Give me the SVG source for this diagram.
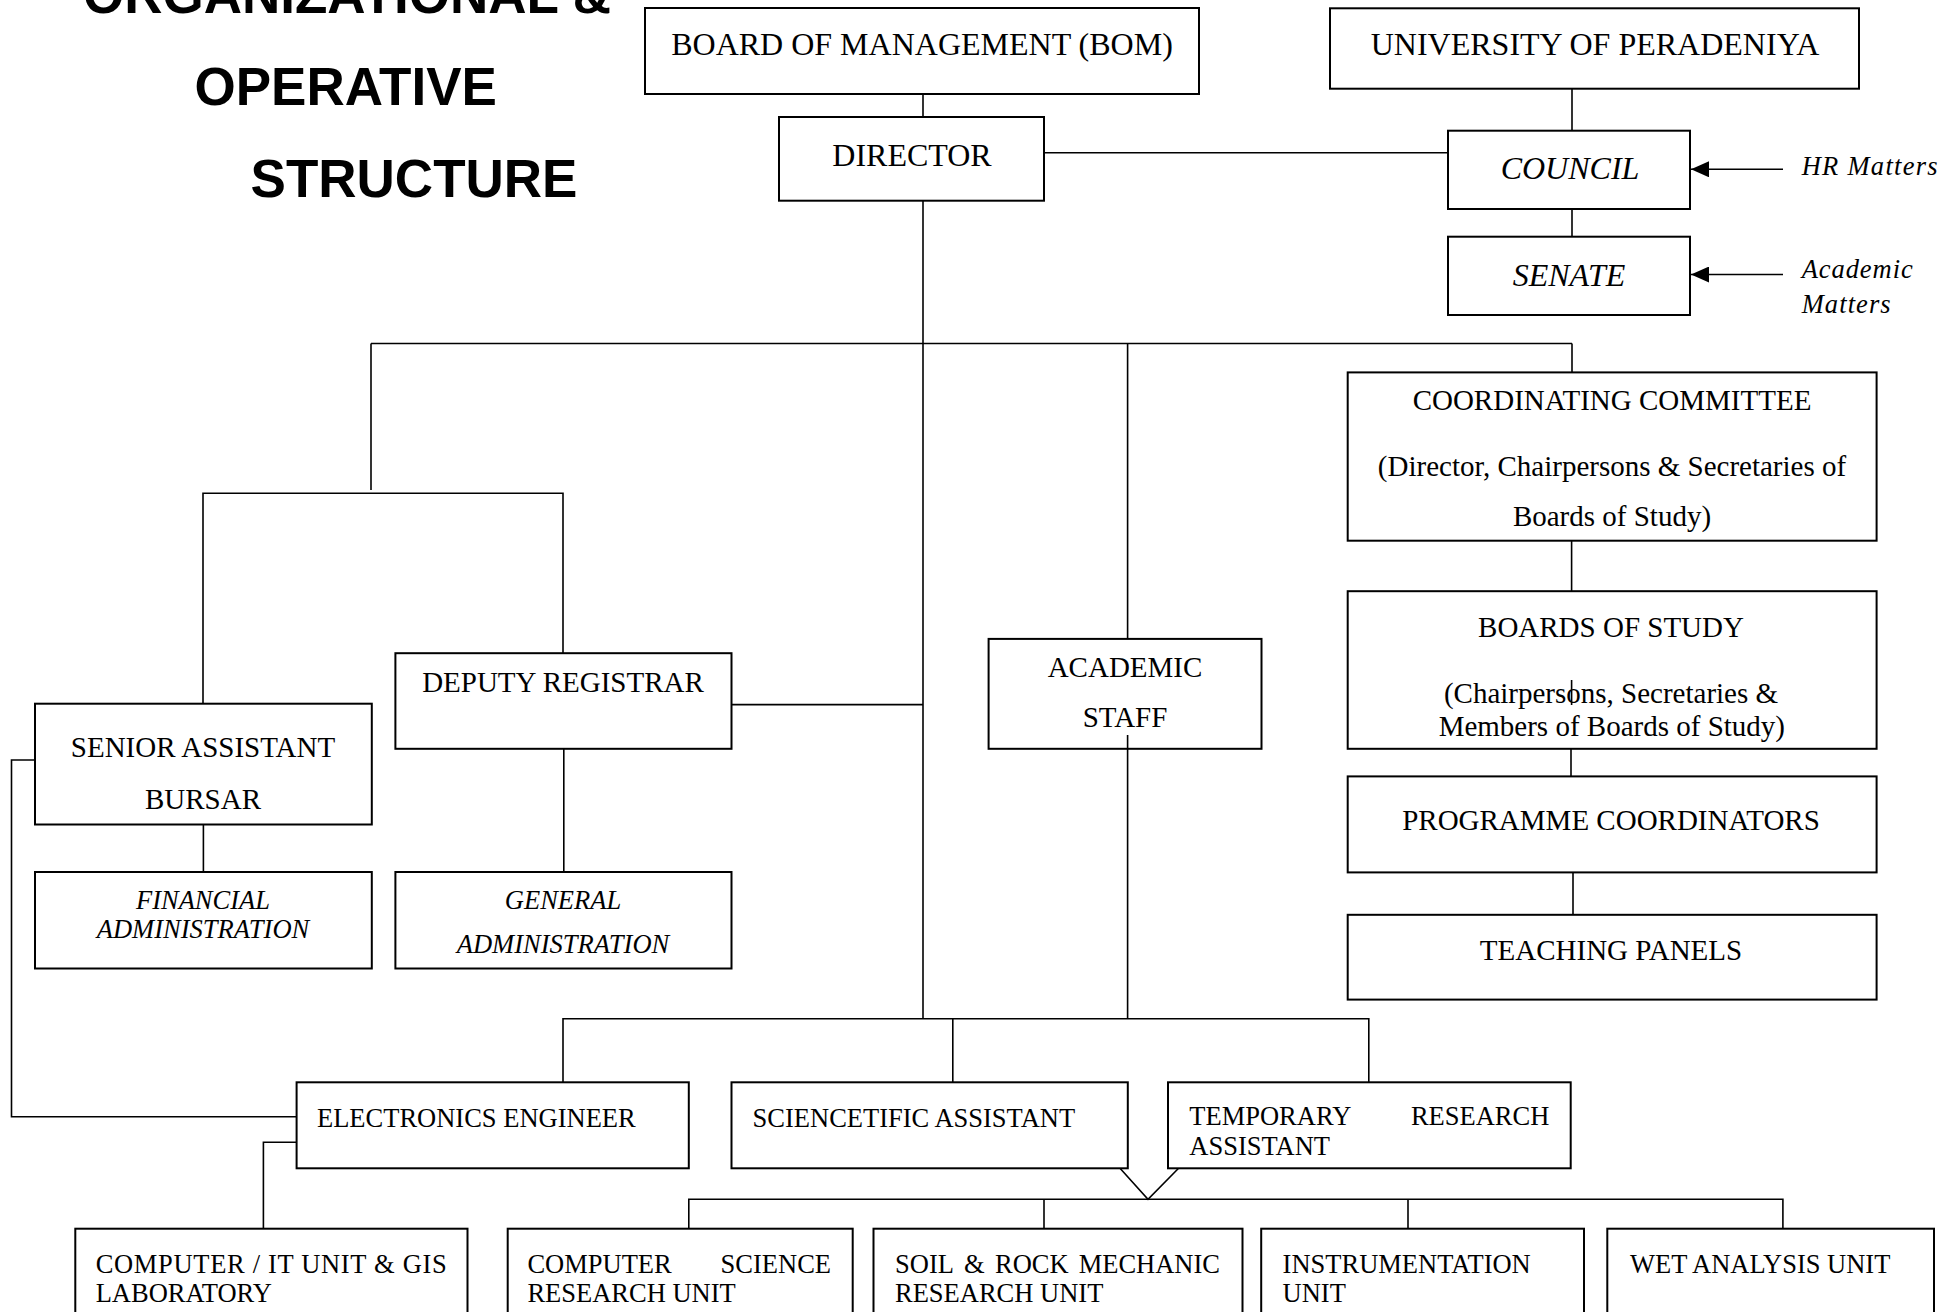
<svg xmlns="http://www.w3.org/2000/svg" width="1959" height="1312" viewBox="0 0 1959 1312">
<style>
  .box { fill: #ffffff; stroke: #000000; stroke-width: 2; }
  .ln { fill: none; stroke: #000000; stroke-width: 1.6; }
  .t32 { font-family: "Liberation Serif", "Times New Roman", serif; font-size: 32px; fill: #000; }
  .t29 { font-family: "Liberation Serif", "Times New Roman", serif; font-size: 29px; fill: #000; }
  .t26 { font-family: "Liberation Serif", "Times New Roman", serif; font-size: 26.5px; fill: #000; }
  .it { font-style: italic; }
  .mid { text-anchor: middle; }
  .end { text-anchor: end; }
  .title { font-family: "Liberation Sans", Arial, sans-serif; font-weight: bold; font-size: 53px; fill: #000; }
</style>
<defs>
  <marker id="ah2" viewBox="0 0 18 16" refX="18" refY="8" markerWidth="18" markerHeight="16" orient="auto" markerUnits="userSpaceOnUse">
    <path d="M0,0 L18,8 L0,16 Z" fill="#000"/>
  </marker>
</defs>
<rect width="1959" height="1312" fill="#ffffff"/>

<g id="title">
  <text class="title" x="83" y="13">ORGANIZATIONAL &amp;</text>
  <text class="title" x="194.5" y="105">OPERATIVE</text>
  <text class="title" x="250.6" y="196.7">STRUCTURE</text>
</g>

<g id="connectors">
  <path class="ln" d="M923,94 V117"/>
  <path class="ln" d="M923,200.7 V1018.7"/>
  <path class="ln" d="M1044,152.7 H1448"/>
  <path class="ln" d="M1572,88.7 V130.7"/>
  <path class="ln" d="M1572,209 V236.7"/>
  <path class="ln" d="M1783,169.3 H1691" stroke-width="2.2" marker-end="url(#ah2)"/>
  <path class="ln" d="M1783,274.5 H1691" stroke-width="2.2" marker-end="url(#ah2)"/>
  <path class="ln" d="M371,343.5 H1572"/>
  <path class="ln" d="M371,343.5 V490"/>
  <path class="ln" d="M203,703.7 V493.3 H563 V653.2"/>
  <path class="ln" d="M1572,343.5 V372.4"/>
  <path class="ln" d="M1127.6,343.5 V638.9"/>
  <path class="ln" d="M731.5,704.6 H923"/>
  <path class="ln" d="M203.4,824.5 V872"/>
  <path class="ln" d="M563.8,748.8 V872"/>
  <path class="ln" d="M35,760 H11.5 V1116.7 H296.6"/>
  <path class="ln" d="M563,1082.3 V1018.7 H1368.8 V1082.3"/>
  <path class="ln" d="M952.8,1018.7 V1082.3"/>
  <path class="ln" d="M1120,1168.3 L1148,1199.3 L1178.6,1168.3"/>
  <path class="ln" d="M688.8,1228.7 V1199.3 H1782.9 V1228.7"/>
  <path class="ln" d="M1044,1199.3 V1228.7"/>
  <path class="ln" d="M1408,1199.3 V1228.7"/>
  <path class="ln" d="M296.6,1142.3 H263.4 V1228.7"/>
  <path class="ln" d="M1571.6,540.7 V591.2"/>
  <path class="ln" d="M1571,748.8 V776.4"/>
  <path class="ln" d="M1573,872.4 V914.8"/>
</g>

<g id="bom">
  <rect class="box" x="645" y="8" width="554" height="86"/>
  <text class="t32 mid" x="922" y="55">BOARD OF MANAGEMENT (BOM)</text>
</g>
<g id="director">
  <rect class="box" x="779" y="117" width="265" height="83.7"/>
  <text class="t32 mid" x="912" y="166">DIRECTOR</text>
</g>
<g id="university">
  <rect class="box" x="1330" y="8.3" width="529" height="80.4"/>
  <text class="t32 mid" x="1595" y="55">UNIVERSITY OF PERADENIYA</text>
</g>
<g id="council">
  <rect class="box" x="1448" y="130.7" width="242" height="78.3"/>
  <text class="t32 it mid" x="1570" y="179">COUNCIL</text>
</g>
<g id="senate">
  <rect class="box" x="1448" y="236.7" width="242" height="78.3"/>
  <text class="t32 it mid" x="1569" y="285.7">SENATE</text>
</g>
<g id="hr-matters">
  <text class="t26 it" x="1801.7" y="175" font-size="27" textLength="136" lengthAdjust="spacing">HR Matters</text>
</g>
<g id="academic-matters">
  <text class="t26 it" x="1801.7" y="278.3" font-size="27" textLength="111" lengthAdjust="spacing">Academic</text>
  <text class="t26 it" x="1801.7" y="313.3" font-size="27" textLength="89" lengthAdjust="spacing">Matters</text>
</g>

<g id="coordinating-committee">
  <rect class="box" x="1347.7" y="372.4" width="528.9" height="168.3"/>
  <text class="t29 mid" x="1612" y="410.4">COORDINATING COMMITTEE</text>
  <text class="t29 mid" x="1612" y="475.5">(Director, Chairpersons &amp; Secretaries of</text>
  <text class="t29 mid" x="1612" y="526">Boards of Study)</text>
</g>
<g id="boards-of-study">
  <rect class="box" x="1347.7" y="591.2" width="528.9" height="157.6"/>
  <text class="t29 mid" x="1611" y="637">BOARDS OF STUDY</text>
  <text class="t29 mid" x="1611" y="702.8">(Chairpersons, Secretaries &amp;</text>
  <text class="t29 mid" x="1611.8" y="736">Members of Boards of Study)</text>
</g>
<g id="programme-coordinators">
  <rect class="box" x="1347.7" y="776.4" width="528.9" height="96"/>
  <text class="t29 mid" x="1611" y="830">PROGRAMME COORDINATORS</text>
</g>
<g id="teaching-panels">
  <rect class="box" x="1347.7" y="914.8" width="528.9" height="84.8"/>
  <text class="t29 mid" x="1611" y="960">TEACHING PANELS</text>
</g>

<g id="academic-staff">
  <rect class="box" x="988.6" y="638.9" width="272.9" height="109.9"/>
  <text class="t29 mid" x="1125" y="677.3">ACADEMIC</text>
  <text class="t29 mid" x="1125" y="727.3">STAFF</text>
</g>
<g id="senior-assistant-bursar">
  <rect class="box" x="35" y="703.7" width="336.8" height="120.8"/>
  <text class="t29 mid" x="203" y="757.2">SENIOR ASSISTANT</text>
  <text class="t29 mid" x="203" y="809">BURSAR</text>
</g>
<g id="deputy-registrar">
  <rect class="box" x="395.4" y="653.2" width="336.1" height="95.6"/>
  <text class="t29 mid" x="563" y="692">DEPUTY REGISTRAR</text>
</g>
<g id="financial-administration">
  <rect class="box" x="35" y="872" width="336.8" height="96.5"/>
  <text class="t26 it mid" x="203" y="908.7">FINANCIAL</text>
  <text class="t26 it mid" x="203" y="938.2">ADMINISTRATION</text>
</g>
<g id="general-administration">
  <rect class="box" x="395.4" y="872" width="336.1" height="96.5"/>
  <text class="t26 it mid" x="563" y="908.7">GENERAL</text>
  <text class="t26 it mid" x="563" y="953">ADMINISTRATION</text>
</g>

<g id="electronics-engineer">
  <rect class="box" x="296.6" y="1082.3" width="392.2" height="86"/>
  <text class="t26" x="317" y="1126.7">ELECTRONICS ENGINEER</text>
</g>
<g id="scientific-assistant">
  <rect class="box" x="731.5" y="1082.3" width="396.3" height="86"/>
  <text class="t26" x="752.6" y="1126.7">SCIENCETIFIC ASSISTANT</text>
</g>
<g id="temporary-research-assistant">
  <rect class="box" x="1168" y="1082.3" width="402.7" height="86"/>
  <text class="t26" x="1189.3" y="1125">TEMPORARY</text>
  <text class="t26 end" x="1549.3" y="1125">RESEARCH</text>
  <text class="t26" x="1189.3" y="1155">ASSISTANT</text>
</g>

<g id="computer-it-unit">
  <rect class="box" x="75.3" y="1228.7" width="392.2" height="120"/>
  <text class="t26" x="95.7" y="1273.3" textLength="351" lengthAdjust="spacing">COMPUTER / IT UNIT &amp; GIS</text>
  <text class="t26" x="95.7" y="1301.7">LABORATORY</text>
</g>
<g id="computer-science-research-unit">
  <rect class="box" x="507.7" y="1228.7" width="345" height="120"/>
  <text class="t26" x="527.4" y="1273.3">COMPUTER</text>
  <text class="t26 end" x="831" y="1273.3">SCIENCE</text>
  <text class="t26" x="527.4" y="1301.7">RESEARCH UNIT</text>
</g>
<g id="soil-rock-mechanic-research-unit">
  <rect class="box" x="873.5" y="1228.7" width="369" height="120"/>
  <text class="t26" x="895" y="1273.3">SOIL</text>
  <text class="t26" x="964" y="1273.3">&amp;</text>
  <text class="t26" x="995" y="1273.3">ROCK</text>
  <text class="t26 end" x="1220" y="1273.3">MECHANIC</text>
  <text class="t26" x="895" y="1301.7">RESEARCH UNIT</text>
</g>
<g id="instrumentation-unit">
  <rect class="box" x="1261.2" y="1228.7" width="322.8" height="120"/>
  <text class="t26" x="1282.6" y="1273.3">INSTRUMENTATION</text>
  <text class="t26" x="1282.6" y="1301.7">UNIT</text>
</g>
<g id="wet-analysis-unit">
  <rect class="box" x="1607.3" y="1228.7" width="326.7" height="120"/>
  <text class="t26" x="1630" y="1273.3">WET ANALYSIS UNIT</text>
</g>

<g id="connectors-over-boxes">
  <path class="ln" d="M1127.6,735 V1018.7"/>
  <path class="ln" d="M1571.6,680 V705"/>
</g>
</svg>
